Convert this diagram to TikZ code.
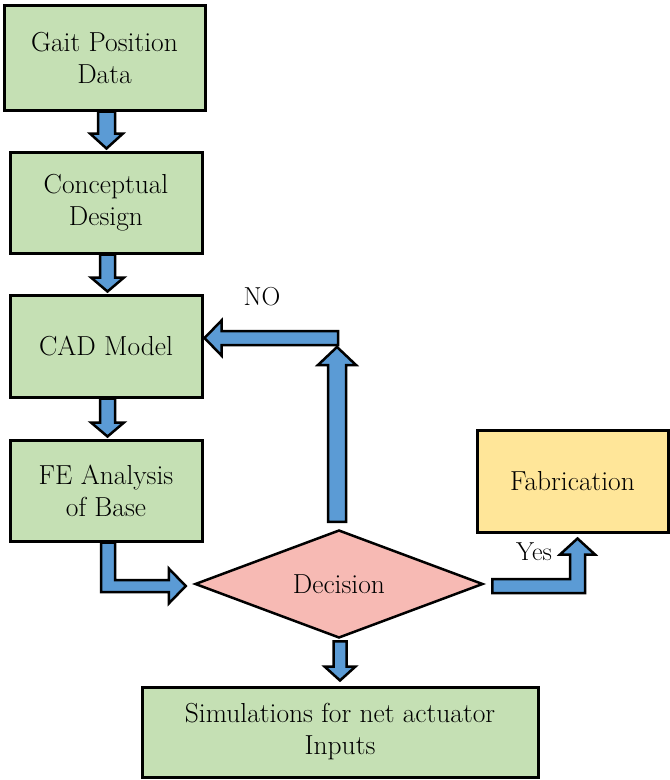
\documentclass[tikz,border=0pt]{standalone}
\usepackage{fontspec}
\usetikzlibrary{calc,shapes.geometric}
\definecolor{boxgreen}{HTML}{C5E0B4}
\definecolor{decpink}{HTML}{F7BAB4}
\definecolor{fabyellow}{HTML}{FFE699}
\definecolor{arrblue}{HTML}{5B9BD5}
% vertical block arrow: start (shaft end), tip, shaft half width, head half width, signed head length (canvas)
\newcommand\blockv[5]{%
  \draw[barrow] let \p1=(#1), \p2=(#2) in
    (\x2-#3pt,\y1) -- (\x2-#3pt,\y2+#5pt) -- (\x2-#4pt,\y2+#5pt) -- (\x2,\y2)
    -- (\x2+#4pt,\y2+#5pt) -- (\x2+#3pt,\y2+#5pt) -- (\x2+#3pt,\y1) -- cycle;}
% horizontal block arrow: start, tip, shaft half width, head half width, signed head length
\newcommand\blockh[5]{%
  \draw[barrow] let \p1=(#1), \p2=(#2) in
    (\x1,\y2-#3pt) -- (\x2+#5pt,\y2-#3pt) -- (\x2+#5pt,\y2-#4pt) -- (\x2,\y2)
    -- (\x2+#5pt,\y2+#4pt) -- (\x2+#5pt,\y2+#3pt) -- (\x1,\y2+#3pt) -- cycle;}
\begin{document}
\begin{tikzpicture}[x=1pt,y=-1pt,
  every node/.style={font=\rmfamily\fontsize{27.5}{32}\selectfont, align=center, inner sep=0pt},
  procbox/.style={draw=black, line width=3pt, fill=boxgreen},
  fabbox/.style={draw=black, line width=3pt, fill=fabyellow},
  decbox/.style={draw=black, line width=2.5pt, fill=decpink, shape=diamond, aspect=2.67,
                 minimum width=288pt, minimum height=108pt},
  barrow/.style={draw=black, line width=2.5pt, fill=arrblue, line join=miter},
  lbl/.style={font=\rmfamily\fontsize{26}{30}\selectfont}]
\useasboundingbox (0,0) rectangle (670,780);

\node[procbox, minimum width=201pt, minimum height=105pt] (b1) at (104.5,57.5) {Gait Position\\Data};
\node[procbox, minimum width=192pt, minimum height=101pt] (b2) at (106,202.5) {Conceptual\\Design};
\node[procbox, minimum width=192pt, minimum height=102pt] (b3) at (106,346) {CAD Model};
\node[procbox, minimum width=192pt, minimum height=101pt] (b4) at (106,490.5) {FE Analysis\\of Base};
\node[decbox] (dec) at (339,584) {Decision};
\node[procbox, minimum width=396pt, minimum height=90pt] (sim) at (340,732) {Simulations for net actuator\\Inputs};
\node[fabbox, minimum width=191pt, minimum height=102pt] (fab) at (572.5,481) {Fabrication};

\node[lbl] (no) at (262,297) {NO};
\node[lbl] (yes) at (534,552) {Yes};

% straight down arrows between the left boxes
\coordinate (a1s) at (b1.south -| b2.north);
\coordinate (a1t) at ($(b2.north)+(0.5,-2)$);
\blockv{a1s}{a1t}{8.5}{16.5}{15}
\coordinate (a2s) at ($(b2.south)+(1.5,0)$);
\coordinate (a2t) at ($(b3.north)+(1.5,-2)$);
\blockv{a2s}{a2t}{7.5}{16.5}{14}
\coordinate (a3s) at ($(b3.south)+(1.5,0)$);
\coordinate (a3t) at ($(b4.north)+(1.5,-2)$);
\blockv{a3s}{a3t}{7.5}{16.5}{14}

% L arrow: FE Analysis -> Decision
\coordinate (a4s) at ($(b4.south)+(2,0)$);
\coordinate (a4t) at ($(dec.west)+(-8,2)$);
\draw[barrow] let \p1=(a4s), \p2=(a4t) in
  (\x1-7pt,\y1) -- (\x1-7pt,\y2-6pt) -- (\x2-17pt,\y2-6pt) -- (\x2-17pt,\y2-17.5pt)
  -- (\x2,\y2) -- (\x2-17pt,\y2+17.5pt) -- (\x2-17pt,\y2+6pt) -- (\x1+7pt,\y2+6pt)
  -- (\x1+7pt,\y1) -- cycle;

% NO: Decision -> up -> CAD Model
\coordinate (nc) at (338,338);
\coordinate (a5s) at ($(dec.north)+(-2,-7)$);
\coordinate (a5t) at ($(nc)+(-1,9)$);
\blockv{a5s}{a5t}{9}{19}{-18}
\coordinate (a5h) at ($(b3.east)+(1,-8)$);
\blockh{nc}{a5h}{7}{17.5}{17}

% Decision -> Simulations
\coordinate (a6s) at ($(dec.south)+(0,2)$);
\coordinate (a6t) at ($(sim.north)+(0,-5)$);
\blockv{a6s}{a6t}{6.5}{15.5}{14}

% Yes: Decision -> Fabrication
\coordinate (a7s) at ($(dec.east)+(8,2)$);
\coordinate (a7t) at ($(fab.south)+(5,5)$);
\draw[barrow] let \p1=(a7s), \p2=(a7t) in
  (\x1,\y1+7pt) -- (\x2-7.5pt,\y1+7pt) -- (\x2-7.5pt,\y2-16pt) -- (\x2-17.5pt,\y2-16pt)
  -- (\x2,\y2) -- (\x2+17.5pt,\y2-16pt) -- (\x2+7.5pt,\y2-16pt) -- (\x2+7.5pt,\y1-7pt)
  -- (\x1,\y1-7pt) -- cycle;
\end{tikzpicture}
\end{document}
